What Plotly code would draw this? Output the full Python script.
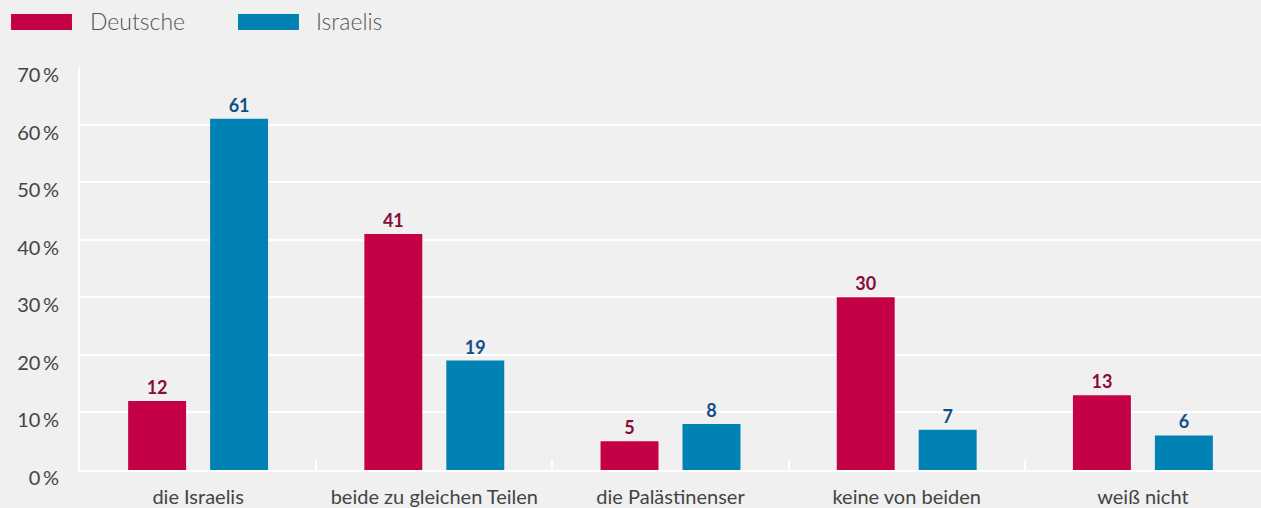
"""Bar chart: Wer trägt die Schuld - Deutsche vs. Israelis."""

import plotly.graph_objects as go

categories = [
    "die Israelis",
    "beide zu gleichen Teilen",
    "die Palästinenser",
    "keine von beiden",
    "weiß nicht",
]
deutsche = [12, 41, 5, 30, 13]
israelis = [61, 19, 8, 7, 6]
y_ticks = [0, 10, 20, 30, 40, 50, 60, 70]

RED = "#C40046"
BLUE = "#0082B4"
BG = "#F0F0F0"
FONT = "Lato, 'Open Sans', sans-serif"

data = [
    go.Bar(
        name="Deutsche",
        x=categories,
        y=deutsche,
        marker=dict(color=RED, line_width=0),
        text=deutsche,
        textposition="outside",
        textfont=dict(family=FONT, size=18, color="#8A0A3C", weight="bold"),
        cliponaxis=False,
    ),
    go.Bar(
        name="Israelis",
        x=categories,
        y=israelis,
        marker=dict(color=BLUE, line_width=0),
        text=israelis,
        textposition="outside",
        textfont=dict(family=FONT, size=18, color="#124F86", weight="bold"),
        cliponaxis=False,
    ),
]

# hand-drawn legend so the swatches can be wide like the original
legend_shapes = [
    dict(type="rect", xref="paper", yref="paper", x0=-0.0584, x1=-0.0068,
         y0=1.0918, y1=1.1315, fillcolor=RED, line_width=0),
    dict(type="rect", xref="paper", yref="paper", x0=0.1338, x1=0.1854,
         y0=1.0918, y1=1.1315, fillcolor=BLUE, line_width=0),
]
legend_labels = [
    dict(text="Deutsche", xref="paper", yref="paper", x=0.0068, y=1.114,
         xanchor="left", yanchor="middle", showarrow=False,
         font=dict(family=FONT, size=23, color="#555555", weight=300)),
    dict(text="Israelis", xref="paper", yref="paper", x=0.198, y=1.114,
         xanchor="left", yanchor="middle", showarrow=False,
         font=dict(family=FONT, size=23, color="#555555", weight=300)),
]

layout = go.Layout(
    width=1261,
    height=508,
    paper_bgcolor=BG,
    plot_bgcolor=BG,
    margin=dict(l=80, r=0, t=67, b=38),
    showlegend=False,
    barmode="group",
    bargap=0.306,
    bargroupgap=0.293,
    font=dict(family=FONT, size=20, color="#444444"),
    xaxis=dict(
        type="category",
        showgrid=False,
        showline=True,
        linecolor="white",
        linewidth=2,
        ticks="inside",
        tickson="boundaries",
        ticklen=10,
        tickwidth=2,
        tickcolor="white",
        ticklabelstandoff=8,
        tickfont=dict(size=20, color="#444444"),
    ),
    yaxis=dict(
        range=[0, 70],
        tickvals=y_ticks,
        ticktext=[f"{v}\u2009%" for v in y_ticks],
        showgrid=True,
        gridcolor="white",
        gridwidth=2,
        zeroline=False,
        showline=True,
        linecolor="white",
        linewidth=2,
        ticks="outside",
        ticklen=15,
        tickcolor=BG,
        ticklabelshift=8,
        tickfont=dict(size=20, color="#444444"),
    ),
    shapes=legend_shapes,
    annotations=legend_labels,
)

fig = go.Figure(data=data, layout=layout)
# drop the default page margin so the figure sits flush in the window
fig.write_html(
    "out.html",
    config={"displayModeBar": False},
    post_script="document.body.style.margin='0';",
)
